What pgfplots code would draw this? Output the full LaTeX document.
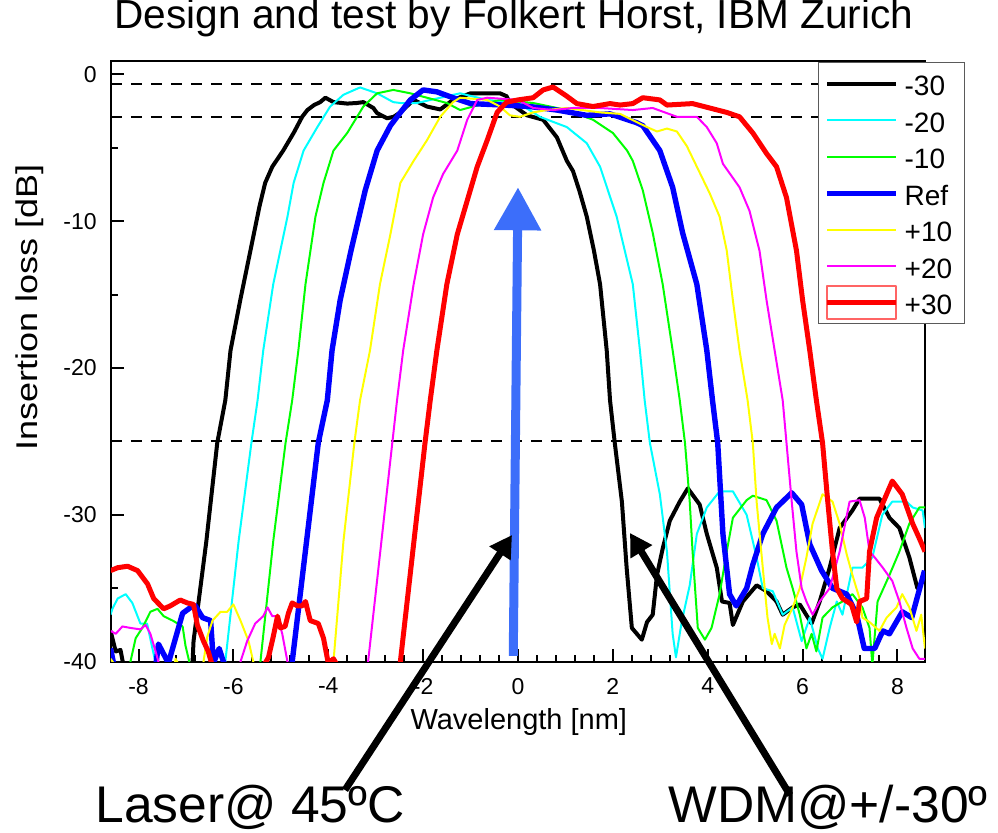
\documentclass[border=0pt]{standalone}
\usepackage{fontspec}
\setmainfont{Liberation Sans}
\usepackage{pgfplots}
\pgfplotsset{compat=1.18}
\usetikzlibrary{arrows.meta}
\definecolor{arrowblue}{RGB}{60,110,250}
\definecolor{legframe}{RGB}{90,90,90}
\definecolor{legred}{RGB}{255,100,100}
\definecolor{cC}{RGB}{0,255,255}
\definecolor{cG}{RGB}{0,255,0}
\definecolor{cB}{RGB}{0,0,255}
\definecolor{cY}{RGB}{255,255,0}
\definecolor{cM}{RGB}{255,0,255}
\definecolor{cR}{RGB}{255,0,0}
\begin{document}
\begin{tikzpicture}
\useasboundingbox (-55.5pt,-85.15pt) rectangle (443.5pt,330.85pt);
\begin{axis}[
  at={(0pt,0pt)}, anchor=south west,
  scale only axis, width=407pt, height=300.35pt,
  xmin=-8.58, xmax=8.58, ymin=-40, ymax=0.9,
  axis line style={line width=1pt},
  xtick={-8,-6,-4,-2,0,2,4,6,8}, xticklabels={-8,-6,-4,-2,0,2,4,6,8},
  ytick={-40,-30,-20,-10,0}, yticklabels={-40,-30,-20,-10,0},
  minor x tick num=4, minor y tick num=1,
  xtick pos=lower, ytick pos=lower,
  tick align=inside,
  major tick length=6.5pt, minor tick length=3.5pt,
  tick style={black, line width=1pt},
  ticklabel style={font=\fontsize{11.5}{12}\selectfont},
  xticklabel style={anchor=north, inner sep=0pt, yshift=-8pt},
  yticklabel style={anchor=east, inner sep=0pt, xshift=-7pt},
  title={Design and test by Folkert Horst, IBM Zurich},
  title style={at={(axis description cs:0.495,1)}, anchor=base, yshift=10pt, inner sep=0pt, font=\fontsize{20.3}{21}\selectfont},
  xlabel={Wavelength [nm]},
  xlabel style={at={(axis description cs:0.501,-0.1004)}, anchor=center, inner sep=0pt, font=\fontsize{14.5}{15}\selectfont},
  ylabel={\scalebox{1.2}[1]{Insertion loss [dB]}},
  ylabel style={at={(axis description cs:-0.0995,0.589)}, anchor=center, inner sep=0pt, font=\fontsize{15}{16}\selectfont},
  legend style={at={(axis description cs:0.8686,0.9983)}, anchor=north west, draw=legframe, line width=0.6pt, fill=white,
    inner xsep=3pt, inner ysep=1.5pt, font=\fontsize{14}{14}\selectfont, row sep=0.25pt,
    nodes={inner xsep=3pt, inner ysep=2pt, text height=13pt, text depth=1pt}},
  legend cell align=left,
  every axis plot/.append style={line join=round},
]
\addplot[black, line width=1pt, dash pattern=on 5.5pt off 4.5pt, forget plot] coordinates {(-8.58,-0.7) (8.58,-0.7)};
\addplot[black, line width=1pt, dash pattern=on 5.5pt off 4.5pt, forget plot] coordinates {(-8.58,-2.9) (8.58,-2.9)};
\addplot[black, line width=1pt, dash pattern=on 5.5pt off 4.5pt, forget plot] coordinates {(-8.58,-25) (8.58,-25)};

% -30
\addplot[black, line width=2pt, legend image code/.code={\draw[black,line width=2pt] (0pt,0pt) -- (34.5pt,0pt);}] table {
-8.59 -37.9
-8.48 -39.3
-8.38 -39.2
-8.32 -40.2
-8.2 -42
-7.0 -42
-6.86 -40
-6.84 -38.6
-6.57 -31.8
-6.34 -25.1
-6.17 -22.2
-6.06 -18.8
-5.85 -15.3
-5.64 -12.0
-5.45 -9.0
-5.33 -7.4
-5.18 -6.3
-4.95 -5.2
-4.73 -4.0
-4.55 -2.9
-4.44 -2.44
-4.30 -2.1
-4.17 -1.9
-4.06 -1.6
-3.89 -1.9
-3.6 -2.0
-3.4 -1.96
-3.26 -1.9
-3.05 -2.3
-2.97 -2.65
-2.76 -3.0
-2.62 -2.9
-2.48 -2.6
-2.2 -1.75
-1.92 -2.2
-1.64 -2.4
-1.37 -1.75
-1.0 -1.3
-0.38 -1.3
-0.24 -1.5
-0.17 -1.96
0.19 -2.8
0.53 -3.1
0.82 -4.3
1.03 -5.9
1.16 -6.6
1.30 -8.0
1.45 -9.7
1.60 -12.0
1.73 -14.3
1.87 -18.8
1.94 -22.2
2.04 -25.1
2.19 -29.1
2.29 -33.6
2.40 -37.7
2.61 -38.5
2.72 -37.3
2.84 -36.8
2.93 -34.1
3.05 -32.3
3.20 -30.4
3.41 -29.1
3.58 -28.2
3.83 -29.3
3.98 -31.3
4.19 -33.6
4.30 -35.9
4.46 -36.0
4.53 -37.5
4.74 -35.9
5.03 -34.8
5.24 -35.2
5.45 -35.9
5.58 -36.8
5.79 -36.3
5.94 -36.1
6.19 -37.4
6.36 -35.9
6.57 -33.6
6.78 -30.9
7.05 -29.7
7.20 -28.9
7.62 -28.9
7.83 -30.2
8.04 -30.9
8.25 -32.9
8.42 -35.0
8.57 -34.3
};
\addlegendentry{-30}

% -20
\addplot[cC, line width=1pt, legend image code/.code={\draw[cC,line width=1pt] (0pt,0pt) -- (34.5pt,0pt);}] table {
-8.59 -36.8
-8.55 -36.4
-8.44 -35.7
-8.27 -35.4
-8.13 -36.0
-7.96 -37.4
-7.82 -37.4
-7.64 -40.1
-7.5 -42
-6.3 -42
-6.17 -40
-5.89 -31.8
-5.62 -25.1
-5.49 -22.2
-5.37 -18.8
-5.16 -14.3
-4.86 -9.7
-4.73 -7.4
-4.52 -5.2
-4.23 -3.6
-3.96 -2.2
-3.68 -1.4
-3.33 -0.9
-2.97 -1.3
-2.63 -1.9
-2.48 -1.96
-2.13 -1.96
-1.5 -1.5
-1.22 -1.3
-0.65 -1.75
0.0 -1.96
0.32 -2.6
0.46 -2.9
1.03 -3.6
1.45 -4.7
1.73 -6.3
2.08 -9.7
2.42 -14.3
2.57 -18.8
2.67 -22.2
2.78 -25.1
2.99 -28.6
3.14 -32.5
3.26 -38.1
3.33 -39.7
3.45 -37.3
3.62 -34.8
3.77 -31.3
3.98 -29.5
4.25 -28.4
4.53 -28.4
4.82 -30.0
5.03 -32.9
5.16 -35.0
5.37 -35.2
5.58 -36.8
5.79 -36.3
5.98 -38.6
6.15 -37.0
6.32 -39.1
6.42 -39.8
6.57 -37.7
6.72 -35.9
6.84 -36.8
7.05 -33.6
7.26 -33.6
7.47 -32.9
7.68 -30.0
7.89 -29.1
8.19 -29.1
8.32 -29.5
8.53 -29.7
8.58 -30.9
};
\addlegendentry{-20}

% -10
\addplot[cG, line width=1pt, legend image code/.code={\draw[cG,line width=1pt] (0pt,0pt) -- (34.5pt,0pt);}] table {
-8.59 -42
-8.3 -42
-8.17 -40
-8.06 -38.4
-7.92 -37.7
-7.75 -36.6
-7.60 -36.4
-7.47 -36.9
-7.28 -37.2
-7.07 -37.6
-7.01 -38.9
-6.93 -40
-6.8 -42
-5.6 -42
-5.43 -40
-5.16 -31.8
-4.90 -25.1
-4.76 -22.2
-4.63 -18.8
-4.48 -14.3
-4.27 -9.7
-4.10 -7.4
-3.89 -5.2
-3.60 -4.0
-3.26 -2.2
-2.97 -1.3
-2.63 -1.07
-2.27 -1.3
-1.92 -1.6
-1.50 -1.96
-1.22 -2.44
-0.95 -2.2
-0.38 -1.75
0.32 -1.96
1.03 -2.44
1.58 -3.1
2.00 -4.0
2.30 -5.2
2.42 -5.9
2.63 -7.9
2.84 -10.8
3.05 -14.3
3.26 -18.8
3.41 -22.2
3.52 -25.1
3.62 -29.1
3.68 -32.5
3.79 -37.7
3.94 -38.5
4.08 -37.7
4.25 -35.4
4.40 -32.5
4.53 -30.2
4.82 -29.0
4.95 -28.7
5.24 -29.0
5.45 -30.4
5.66 -33.6
5.79 -35.0
5.94 -36.8
6.08 -39.1
6.19 -38.1
6.29 -39.3
6.42 -37.0
6.63 -36.3
6.84 -35.9
7.05 -35.4
7.26 -36.3
7.41 -37.7
7.47 -40.2
7.58 -35.9
7.83 -34.1
8.04 -32.5
8.25 -30.6
8.46 -29.5
8.58 -29.5
};
\addlegendentry{-10}

% Ref
\addplot[cB, line width=2.7pt, legend image code/.code={\draw[cB,line width=2.5pt] (0pt,0pt) -- (34.5pt,0pt);}] table {
-8.59 -39.1
-8.52 -40.2
-8.4 -42
-7.7 -42
-7.58 -38.8
-7.37 -40.1
-7.22 -38.4
-7.07 -36.7
-6.90 -36.3
-6.80 -36.2
-6.65 -37.0
-6.48 -37.2
-6.42 -40.1
-6.30 -39.1
-6.20 -40.1
-6.1 -42
-4.9 -42
-4.76 -40
-4.21 -25.1
-4.02 -22.2
-3.92 -18.8
-3.75 -15.4
-3.52 -12.0
-3.22 -7.9
-2.97 -5.2
-2.69 -3.5
-2.55 -2.9
-2.27 -1.75
-2.00 -1.07
-1.71 -1.2
-1.37 -1.6
-1.00 -2.0
-0.30 -2.1
0.25 -2.2
0.82 -2.44
1.45 -2.8
1.94 -2.7
2.50 -3.3
2.63 -3.5
2.99 -5.2
3.26 -7.7
3.47 -10.8
3.77 -14.3
3.98 -18.8
4.10 -22.2
4.21 -25.1
4.32 -31.3
4.46 -35.4
4.60 -36.2
4.82 -35.0
4.95 -33.4
5.16 -31.3
5.45 -29.5
5.77 -28.5
5.98 -29.3
6.15 -32.0
6.40 -33.8
6.63 -35.0
6.93 -35.4
7.14 -36.8
7.30 -39.1
7.52 -39.1
7.69 -37.9
7.83 -38.1
8.10 -36.6
8.30 -37.0
8.57 -33.8
};
\addlegendentry{Ref}

% +10
\addplot[cY, line width=1pt, legend image code/.code={\draw[cY,line width=1pt] (0pt,0pt) -- (34.5pt,0pt);}] table {
-8.59 -39.8
-8.50 -40.2
-8.4 -42
-7.3 -42
-7.22 -39.8
-7.15 -40.2
-7.0 -42
-6.7 -42
-6.63 -40
-6.55 -38.3
-6.44 -37.2
-6.27 -36.6
-6.13 -36.6
-6.00 -36.1
-5.85 -37.2
-5.68 -38.6
-5.58 -40
-5.4 -42
-4.0 -42
-3.89 -40
-3.68 -31.8
-3.45 -25.1
-3.33 -22.2
-3.12 -18.8
-2.91 -14.3
-2.69 -10.9
-2.48 -7.4
-2.20 -5.9
-1.92 -4.5
-1.64 -2.9
-1.37 -1.9
-1.22 -1.6
-0.65 -1.75
-0.38 -2.2
-0.17 -2.8
0.04 -2.9
0.32 -2.6
0.61 -2.44
1.03 -2.3
1.73 -2.6
2.15 -2.7
2.72 -3.6
2.93 -3.9
3.14 -3.7
3.35 -3.9
3.56 -4.9
3.77 -6.3
4.04 -8.1
4.25 -9.7
4.40 -12.0
4.53 -15.4
4.67 -18.8
4.84 -22.2
4.95 -25.1
5.03 -29.1
5.16 -33.6
5.26 -37.0
5.35 -38.8
5.41 -38.1
5.52 -39.1
5.62 -37.5
5.79 -36.3
5.94 -35.0
6.08 -32.9
6.21 -30.6
6.42 -28.6
6.63 -29.1
6.78 -30.6
6.93 -32.7
7.05 -34.1
7.20 -35.7
7.26 -37.0
7.41 -37.3
7.62 -37.9
7.77 -37.0
7.98 -36.3
8.10 -35.4
8.25 -36.3
8.40 -37.9
8.50 -36.8
8.58 -39.1
};
\addlegendentry{+10}

% +20
\addplot[cM, line width=1pt, legend image code/.code={\draw[cM,line width=1pt] (0pt,0pt) -- (34.5pt,0pt);}] table {
-8.59 -37.9
-8.48 -38.1
-8.34 -37.6
-8.17 -37.7
-7.96 -37.8
-7.85 -37.5
-7.75 -38.1
-7.64 -39.3
-7.58 -40
-7.4 -42
-6.0 -42
-5.85 -40
-5.71 -38.6
-5.54 -37.4
-5.37 -36.9
-5.28 -36.3
-5.18 -36.9
-5.07 -36.9
-4.97 -38.1
-4.86 -40
-4.7 -42
-3.3 -42
-3.16 -40
-2.65 -25.1
-2.55 -22.2
-2.42 -18.8
-2.20 -14.3
-2.00 -10.9
-1.79 -8.4
-1.58 -6.8
-1.28 -5.2
-1.07 -3.1
-0.86 -1.75
-0.65 -1.6
0.0 -1.75
0.32 -2.3
0.74 -2.44
1.16 -2.3
1.73 -2.3
2.42 -2.44
2.84 -2.3
3.35 -2.9
3.77 -2.9
3.98 -3.6
4.19 -4.7
4.32 -6.1
4.67 -7.7
4.88 -9.3
5.09 -12.0
5.24 -15.4
5.41 -18.8
5.58 -22.2
5.66 -25.1
5.77 -29.1
5.87 -32.5
5.98 -35.0
6.08 -35.9
6.21 -36.8
6.36 -35.9
6.57 -35.0
6.78 -32.5
6.99 -29.1
7.20 -29.0
7.31 -30.2
7.41 -32.5
7.52 -32.9
7.69 -33.6
7.89 -34.5
8.04 -35.9
8.19 -37.7
8.32 -39.1
8.46 -39.8
8.58 -39.8
};
\addlegendentry{+20}

% +30
\addplot[cR, line width=2.5pt, legend image code/.code={\draw[legred,line width=0.8pt,overlay] (0pt,-8.25pt) rectangle (34.5pt,8.25pt); \draw[cR,line width=2.2pt] (0pt,0pt) -- (34.5pt,0pt);}] table {
-8.59 -33.8
-8.44 -33.6
-8.23 -33.5
-8.02 -33.8
-7.81 -34.7
-7.68 -35.7
-7.47 -36.4
-7.33 -36.2
-7.12 -35.8
-6.97 -36.0
-6.84 -36.1
-6.76 -37.5
-6.63 -38.6
-6.53 -39.3
-6.45 -40.2
-6.3 -42
-5.45 -42
-5.33 -40.1
-5.26 -39.7
-5.16 -38.3
-5.07 -36.9
-5.01 -37.7
-4.91 -37.6
-4.84 -36.7
-4.76 -36.0
-4.65 -36.2
-4.55 -36.2
-4.48 -35.9
-4.38 -37.2
-4.21 -37.4
-4.10 -38.4
-4.00 -40.1
-3.89 -39.8
-3.82 -40.2
-3.7 -42
-2.6 -42
-2.48 -40
-1.96 -25.1
-1.85 -22.2
-1.71 -18.8
-1.50 -14.3
-1.28 -10.9
-1.07 -8.6
-0.86 -6.3
-0.65 -4.5
-0.44 -2.6
-0.24 -1.9
0.00 -1.75
0.32 -1.6
0.53 -1.07
0.74 -0.87
1.03 -1.5
1.24 -2.0
1.58 -2.2
1.94 -2.0
2.15 -2.1
2.42 -2.0
2.63 -1.6
2.99 -1.75
3.14 -2.1
3.68 -2.0
4.40 -2.6
4.67 -2.9
4.95 -4.0
5.24 -5.4
5.45 -6.3
5.66 -8.4
5.87 -12.0
6.00 -15.4
6.15 -18.8
6.29 -22.2
6.42 -25.1
6.53 -29.1
6.63 -32.5
6.72 -35.0
6.84 -35.7
7.03 -36.1
7.14 -37.3
7.20 -35.9
7.35 -35.7
7.41 -32.5
7.56 -30.2
7.77 -28.6
7.89 -27.7
8.10 -28.6
8.32 -30.6
8.46 -31.6
8.58 -32.5
};
\addlegendentry{+30}

\draw[arrowblue, line width=4.5pt, -{Triangle[length=21.5pt,width=22.5pt]}] (axis cs:-0.1,-39.6) -- (axis cs:0,-7.7);
\end{axis}
\draw[black, line width=3.5pt, -{Triangle[length=11pt,width=12pt]}] (117pt,-64.15pt) -- (200.5pt,63.35pt);
\draw[black, line width=3.5pt, -{Triangle[length=11pt,width=12pt]}] (339.5pt,-66.65pt) -- (259.5pt,64.35pt);
\node[anchor=base west, inner sep=0pt, font=\fontsize{25.8}{26}\selectfont] at (-8pt,-80.15pt) {Laser@ 45ºC};
\node[anchor=base west, inner sep=0pt, font=\fontsize{25.8}{26}\selectfont] at (278.5pt,-80.15pt) {WDM@+/-30º};
\end{tikzpicture}
\end{document}
